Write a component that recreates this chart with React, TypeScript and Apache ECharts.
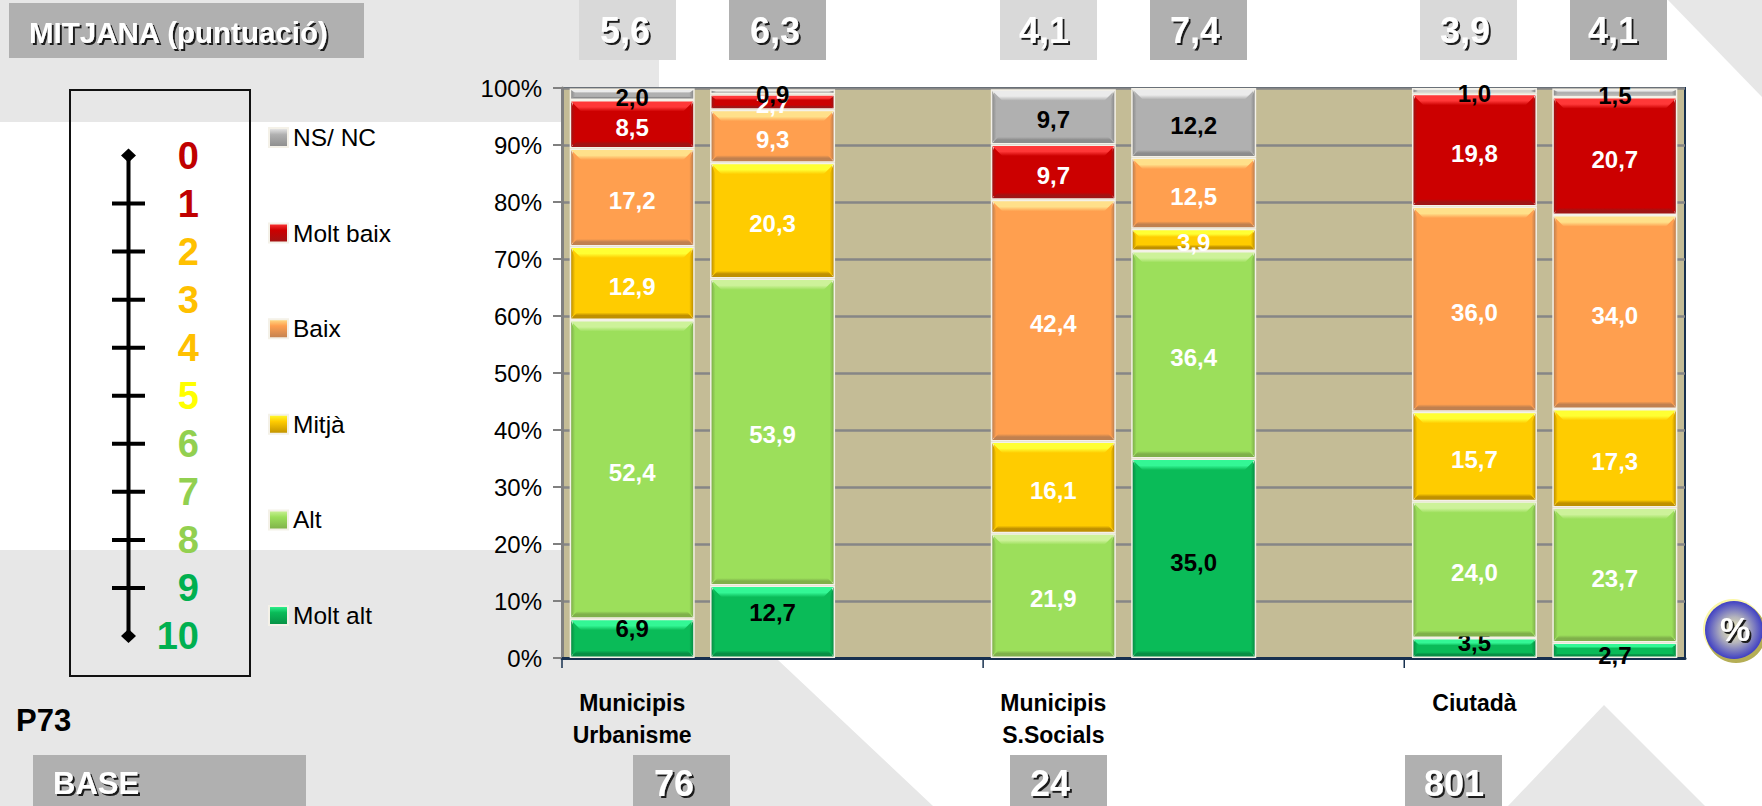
import React, { useEffect, useRef } from "react";
import * as echarts from "echarts";

// Eight slots; the bars occupy slots 0,1 / 3,4 / 6,7 and each group is three slots wide
const categories = ["Municipis\nUrbanisme", "", "", "Municipis\nS.Socials", "", "", "Ciutadà", ""];
const slotsWithBars = [0, 1, 3, 4, 6, 7];
const groupStarts = [0, 3, 6];

// Stacked from the bottom up; null where the slot or segment is empty
const moltAlt = [6.9, 12.7, null, null, 35.0, null, 3.5, 2.7];
const alt = [52.4, 53.9, null, 21.9, 36.4, null, 24.0, 23.7];
const mitja = [12.9, 20.3, null, 16.1, 3.9, null, 15.7, 17.3];
const baix = [17.2, 9.3, null, 42.4, 12.5, null, 36.0, 34.0];
const moltBaix = [8.5, 2.7, null, 9.7, null, null, 19.8, 20.7];
const nsNc = [2.0, 0.9, null, 9.7, 12.2, null, 1.0, 1.5];

const meanScores = ["5,6", "6,3", "4,1", "7,4", "3,9", "4,1"];
const baseCounts = ["76", "24", "801"];
const scaleLabels = ["0", "1", "2", "3", "4", "5", "6", "7", "8", "9", "10"];
const yTicks = { min: 0, max: 100, interval: 10 };

const FONT = '"Liberation Sans", Arial, sans-serif';

const seriesDefs = [
  { name: "Molt alt", values: moltAlt, main: "#0ABB58", light: "#33F795", dark: "#078F45", label: "#000" },
  { name: "Alt", values: alt, main: "#9CDF5B", light: "#CDF29A", dark: "#7FB04A", label: "#fff" },
  { name: "Mitjà", values: mitja, main: "#FFCC00", light: "#FFFF33", dark: "#BF9000", label: "#fff" },
  { name: "Baix", values: baix, main: "#FF9F4F", light: "#FFE08A", dark: "#C0804F", label: "#fff" },
  { name: "Molt baix", values: moltBaix, main: "#CC0000", light: "#FF3838", dark: "#A01414", label: "#fff" },
  { name: "NS/ NC", values: nsNc, main: "#B0B0B0", light: "#EBEBEB", dark: "#8C8C8C", label: "#000" },
];

// Hand-placed label shifts for the "Molt alt" segments, in px, by slot
const moltAltLabelShift = [-10, -9, 0, 0, 4, 0, -6, 5];
const DEFAULT_LABEL_SHIFT = 3;
const BAR_W = 125;
const INNER_HALF = 61;

const vGrad = (stops: [number, string][]) => ({
  type: "linear", x: 0, y: 0, x2: 0, y2: 1,
  colorStops: stops.map(([offset, color]) => ({ offset, color })),
});
const hGrad = (stops: [number, string][]) => ({
  type: "linear", x: 0, y: 0, x2: 1, y2: 0,
  colorStops: stops.map(([offset, color]) => ({ offset, color })),
});

function buildSegments() {
  const rows: number[][] = [];
  slotsWithBars.forEach((slot) => {
    let base = 0;
    seriesDefs.forEach((s, si) => {
      const v = s.values[slot];
      if (v == null) return;
      const shift = si === 0 ? moltAltLabelShift[slot] : DEFAULT_LABEL_SHIFT;
      rows.push([slot, base, base + v, si, v, shift]);
      base += v;
    });
  });
  return rows;
}

function renderBevel(_: any, api: any) {
  const slot = api.value(0);
  const start = api.value(1);
  const end = api.value(2);
  const si = api.value(3);
  const v = api.value(4);
  const shift = api.value(5);
  const s = seriesDefs[si];
  const pBot = api.coord([slot, start]);
  const pTop = api.coord([slot, end]);
  const cx = pBot[0];
  const x0 = cx - INNER_HALF;
  const x1 = cx + INNER_HALF;
  const y0 = pTop[1] + 1.5;
  const y1 = pBot[1] - 1.5;
  const h = Math.max(1, y1 - y0);
  const t = Math.min(10, h * 0.35);
  const b = Math.min(6, h * 0.25);
  const side = 4;
  const children: any[] = [
    {
      type: "polygon",
      shape: { points: [[x0, y0], [x1, y0], [x1 - t, y0 + t], [x0 + t, y0 + t]] },
      style: { fill: vGrad([[0, s.light], [0.55, s.light], [1, s.main]]) },
      silent: true,
    },
    {
      type: "polygon",
      shape: { points: [[x0, y1], [x1, y1], [x1 - b, y1 - b], [x0 + b, y1 - b]] },
      style: { fill: vGrad([[0, s.main], [0.5, s.dark], [1, s.dark]]) },
      silent: true,
    },
    {
      type: "polygon",
      shape: { points: [[x0, y0], [x0 + side, y0 + t], [x0 + side, y1 - b], [x0, y1]] },
      style: { fill: hGrad([[0, s.dark], [1, s.main]]) },
      silent: true,
    },
    {
      type: "polygon",
      shape: { points: [[x1, y0], [x1 - side, y0 + t], [x1 - side, y1 - b], [x1, y1]] },
      style: { fill: hGrad([[0, s.main], [1, s.dark]]) },
      silent: true,
    },
    {
      type: "text",
      silent: true,
      style: {
        text: v.toFixed(1).replace(".", ","),
        x: cx,
        y: (pTop[1] + pBot[1]) / 2 + shift,
        fill: s.label,
        font: `bold 24px ${FONT}`,
        align: "center",
        verticalAlign: "middle",
      },
    },
  ];
  return { type: "group", children };
}

function renderGroupTick(_: any, api: any) {
  const slot = api.value(0);
  const band = api.size([1, 0])[0];
  const p = api.coord([slot, 0]);
  const x = p[0] - band / 2;
  return {
    type: "line",
    silent: true,
    shape: { x1: x, y1: p[1], x2: x, y2: p[1] + 10 },
    style: { stroke: "#17304F", lineWidth: 1.5 },
  };
}

const shadowText = (text: string, x: number, y: number, size: number, align = "center") => ({
  type: "text",
  x,
  y,
  style: {
    text,
    fill: "#fff",
    font: `bold ${size}px ${FONT}`,
    align,
    verticalAlign: "middle",
    textShadowColor: "#1a1a1a",
    textShadowOffsetX: 2,
    textShadowOffsetY: 2,
    textShadowBlur: 0.6,
  },
});

const box = (x: number, y: number, w: number, h: number, fill: string) => ({
  type: "rect",
  shape: { x, y, width: w, height: h },
  style: { fill },
});

function buildGraphics() {
  const GRAY = "#E7E7E7";
  const bg = (points: number[][]) => ({ type: "polygon", z: -1, shape: { points }, style: { fill: GRAY } });
  const els: any[] = [
    bg([[0, 0], [659, 0], [659, 122], [0, 122]]),
    bg([[0, 550], [563, 550], [563, 660], [778, 660], [933, 806], [0, 806]]),
    bg([[1668, 0], [1762, 0], [1762, 97]]),
    bg([[1604, 705], [1705, 806], [1508, 806]]),
    box(9, 3, 355, 55, "#B0B0B0"),
    shadowText("MITJANA (puntuació)", 29, 32, 29.5, "left"),
    box(33, 755, 273, 51, "#B0B0B0"),
    shadowText("BASE", 53, 783, 31, "left"),
  ];
  const meanBoxX = [579, 729, 1000, 1150, 1420, 1570];
  const meanTextX = [625, 775, 1044, 1195, 1465, 1613];
  meanScores.forEach((m, i) => {
    els.push(box(meanBoxX[i], 0, 97, 60, i % 2 ? "#B0B0B0" : "#D9D9D9"));
    els.push(shadowText(m, meanTextX[i], 30, 36));
  });
  const baseBoxX = [633, 1010, 1405];
  const baseTextX = [674, 1050, 1454];
  baseCounts.forEach((c, i) => {
    els.push(box(baseBoxX[i], 755, 97, 51, "#B0B0B0"));
    els.push(shadowText(c, baseTextX[i], 783, 36));
  });

  // Scale box
  els.push({ type: "rect", shape: { x: 70, y: 90, width: 180, height: 586 }, style: { fill: "none", stroke: "#111", lineWidth: 2 } });
  const top = 155.5;
  const step = 48.05;
  els.push({ type: "line", shape: { x1: 128.5, y1: top, x2: 128.5, y2: top + step * 10 }, style: { stroke: "#000", lineWidth: 4 } });
  const scaleColors = ["#C00000", "#C00000", "#FFC000", "#FFC000", "#FFC000", "#FFFF00", "#92D050", "#92D050", "#92D050", "#00B050", "#00B050"];
  scaleLabels.forEach((l, i) => {
    const y = top + step * i;
    if (i === 0 || i === 10) {
      els.push({ type: "polygon", shape: { points: [[128.5, y - 7], [136, y], [128.5, y + 7], [121, y]] }, style: { fill: "#000" } });
    } else {
      els.push({ type: "line", shape: { x1: 112, y1: y, x2: 145, y2: y }, style: { stroke: "#000", lineWidth: 4 } });
    }
    els.push({
      type: "text", x: 199, y,
      style: { text: l, fill: scaleColors[i], font: `bold 38px ${FONT}`, align: "right", verticalAlign: "middle" },
    });
  });

  els.push({ type: "text", x: 16, y: 720, style: { text: "P73", fill: "#000", font: `bold 31px ${FONT}`, align: "left", verticalAlign: "middle" } });

  // % badge
  els.push({ type: "circle", shape: { cx: 1733, cy: 629, r: 30 }, style: { fill: "#FBF7A8" } });
  els.push({ type: "circle", shape: { cx: 1736, cy: 633, r: 30 }, style: { fill: "#B5AE55" } });
  els.push({
    type: "circle",
    shape: { cx: 1734, cy: 630, r: 29 },
    style: {
      fill: {
        type: "radial", x: 0.5, y: 0.5, r: 0.5,
        colorStops: [
          { offset: 0, color: "#F2EFB4" },
          { offset: 0.45, color: "#B4B4BC" },
          { offset: 1, color: "#3F3FC4" },
        ],
      },
    },
  });
  els.push(shadowText("%", 1735, 629, 34));
  return els;
}

export default function App() {
  const ref = useRef<HTMLDivElement>(null);
  useEffect(() => {
    document.body.style.margin = "0";
    const chart = echarts.init(ref.current!, undefined, { renderer: "svg" });
    chart.setOption({
      animation: false,
      backgroundColor: "#fff",
      textStyle: { fontFamily: FONT },
      grid: {
        left: 562, right: 77, top: 88, bottom: 148,
        show: true, backgroundColor: "#C4BC96", borderColor: "#17304F", borderWidth: 2,
      },
      legend: {
        orient: "vertical",
        left: 268,
        top: 125,
        padding: 0,
        itemWidth: 19,
        itemHeight: 19,
        itemGap: 70.6,
        selectedMode: false,
        textStyle: { fontSize: 24.5, color: "#000", fontFamily: FONT },
        data: [...seriesDefs].reverse().map((s) => ({
          name: s.name,
          icon: "rect",
          itemStyle: { color: vGrad([[0, s.light], [0.35, s.main], [1, s.dark]]) },
        })),
      },
      xAxis: {
        type: "category",
        data: categories,
        axisLine: { lineStyle: { color: "#17304F", width: 3 } },
        axisTick: { show: false },
        axisLabel: {
          interval: 0, margin: 29, color: "#000", fontWeight: "bold", fontSize: 23,
          lineHeight: 32, fontFamily: FONT,
        },
      },
      yAxis: {
        type: "value",
        ...yTicks,
        axisLine: { show: true, lineStyle: { color: "#808080", width: 3 } },
        axisTick: { show: true, length: 9, lineStyle: { color: "#808080", width: 2 } },
        axisLabel: { formatter: "{value}%", color: "#000", fontSize: 24, margin: 20, fontFamily: FONT, padding: [6, 0, 0, 0] },
        splitLine: { show: true, lineStyle: { color: "#868686", width: 2.5 } },
      },
      series: [
        ...seriesDefs.map((s) => ({
          name: s.name,
          type: "bar",
          stack: "total",
          barWidth: BAR_W,
          data: s.values,
          itemStyle: { color: s.main, borderColor: "#F4F1E8", borderWidth: 3 },
          z: 2,
        })),
        {
          type: "custom",
          name: "bevel",
          z: 5,
          silent: true,
          renderItem: renderBevel,
          encode: { x: 0, y: [1, 2] },
          data: buildSegments(),
        },
        {
          type: "custom",
          name: "groupTicks",
          z: 5,
          silent: true,
          renderItem: renderGroupTick,
          encode: { x: 0 },
          data: groupStarts.map((g) => [g]),
        },
      ],
      graphic: { elements: buildGraphics() },
    });
    return () => chart.dispose();
  }, []);
  return <div ref={ref} style={{ position: "fixed", left: 0, top: 0, width: 1762, height: 806 }} />;
}
